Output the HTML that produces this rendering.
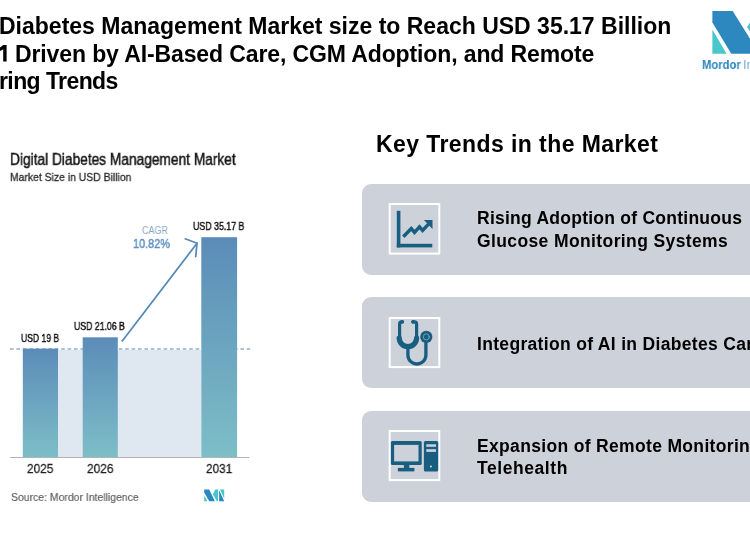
<!DOCTYPE html>
<html><head><meta charset="utf-8">
<style>
*{margin:0;padding:0;box-sizing:border-box}
html,body{width:750px;height:536px;overflow:hidden;background:#fff}
body{position:relative;font-family:"Liberation Sans",sans-serif}
.t{position:absolute;white-space:nowrap;line-height:1;transform-origin:0 0;will-change:transform}
svg{position:absolute;left:0;top:0}
</style></head><body>
<svg width="750" height="536" viewBox="0 0 750 536">
  <defs>
    <linearGradient id="bg" x1="0" y1="0" x2="0" y2="1">
      <stop offset="0" stop-color="#5b8cb8"/>
      <stop offset="1" stop-color="#7dbec7"/>
    </linearGradient>
  </defs>
  <!-- clipped "1" of title line 2 -->
  <path d="M3.2,45.1 L6.6,45.1 L6.6,61.6 L3.2,61.6 L3.2,49.2 Q1.6,50.4 0,51 L0,47.4 Q1.8,46.5 3.2,45.1 Z" fill="#000"/>
  <!-- chart light region -->
  <rect x="58" y="350" width="143" height="107" fill="#dfe7f0"/>
  <!-- dashed line -->
  <line x1="10" y1="349" x2="250" y2="349" stroke="#92b0c8" stroke-width="1.4" stroke-dasharray="3.6 2.8"/>
  <!-- bars -->
  <rect x="22.8" y="348.6" width="35.2" height="108.6" fill="url(#bg)"/>
  <rect x="82.7" y="337.3" width="35.1" height="119.9" fill="url(#bg)"/>
  <rect x="201.3" y="237.2" width="35.8" height="220" fill="url(#bg)"/>
  <!-- axis -->
  <line x1="10" y1="457.5" x2="249.5" y2="457.5" stroke="#b3b3b3" stroke-width="1.2"/>
  <!-- arrow -->
  <g stroke="#5489ba" stroke-width="1.75" fill="none" stroke-linecap="round">
    <line x1="122.3" y1="341" x2="197" y2="243.3"/>
    <polyline points="185.3,238.8 197,243.3 195.7,256.7"/>
  </g>
  <!-- small logo -->
  <g>
    <polygon points="204.2,495.6 204.2,501.2 207.4,501.2" fill="#45c6cb"/>
    <polygon points="204.2,489.5 209.2,489.5 214.9,501.2 209.3,501.2 204.2,492.4" fill="#2a88c0"/>
    <polygon points="215.2,489.5 218,489.5 218,501.2 216.9,501.2 212.9,494.3" fill="#45c6cb"/>
    <polygon points="219.1,490 219.1,501.2 224.2,501.2" fill="#2a88c0"/>
    <polygon points="220,489.5 224.2,489.5 224.2,498.6" fill="#45c6cb"/>
  </g>
  <!-- big logo -->
  <g>
    <polygon points="712.4,29.4 712.4,53.7 726.6,53.7" fill="#48c8cc"/>
    <polygon points="712.4,10.9 732.7,10.9 759.4,53.7 731.3,53.7 712.4,22.6" fill="#2e88c0"/>
    <polygon points="747,27 760,7 760,47" fill="#48c8cc"/>
  </g>
  <!-- cards -->
  <rect x="362" y="184" width="400" height="90.9" rx="9" fill="#cdd1d9"/>
  <rect x="362" y="297" width="400" height="91" rx="9" fill="#cdd1d9"/>
  <rect x="362" y="411" width="400" height="91" rx="9" fill="#cdd1d9"/>
  <!-- icon boxes -->
  <rect x="389.7" y="204" width="49.6" height="49.6" fill="none" stroke="#fff" stroke-width="2"/>
  <rect x="389.7" y="318" width="49.6" height="49.1" fill="none" stroke="#fff" stroke-width="2"/>
  <rect x="389.7" y="431" width="49.6" height="49.1" fill="none" stroke="#fff" stroke-width="2"/>
  <!-- icon 1: chart -->
  <g fill="#175e81">
    <rect x="396.8" y="210.8" width="3.6" height="36.6"/>
    <rect x="396.8" y="243.8" width="35.5" height="3.6"/>
    <polyline points="403.3,236.8 411.3,228.6 414.5,232.4 419.5,226.8 422.6,230.4 428.5,224.2" fill="none" stroke="#175e81" stroke-width="3.4" stroke-linejoin="miter"/>
    <polygon points="423.9,220 432.5,220 432.5,229"/>
  </g>
  <!-- icon 2: stethoscope -->
  <g transform="translate(386,314)" fill="none" stroke="#175e81" stroke-linecap="round">
    <path d="M16.2,7.8 L15.6,7.8 Q13.6,7.8 13.6,10 L13.6,24.5" stroke-width="3.2"/>
    <path d="M27,7.8 L28.4,7.8 Q30.6,7.8 30.6,10 L30.6,24.5" stroke-width="3.2"/>
    <path d="M13.2,24 A8.7,8.7 0 0 0 30.6,24" stroke-width="5.2"/>
    <path d="M21.9,33 L21.9,41 A9,9 0 0 0 39.9,41 L39.9,28" stroke-width="3.3"/>
    <circle cx="16.2" cy="7.8" r="1.9" fill="#175e81" stroke="none"/>
    <circle cx="27" cy="7.8" r="1.9" fill="#175e81" stroke="none"/>
    <circle cx="40.3" cy="22.9" r="6.1" fill="#175e81" stroke="none"/>
    <circle cx="40.3" cy="22.9" r="3" fill="none" stroke="#8fa9bc" stroke-width="0.8"/>
  </g>
  <!-- icon 3: computer -->
  <g transform="translate(386,427)">
    <rect x="4.9" y="14.1" width="30.8" height="23.8" rx="1.5" fill="#175e81"/>
    <rect x="8.1" y="17.9" width="24.4" height="16.5" fill="#cdd1d9"/>
    <rect x="17.9" y="37.5" width="5.4" height="3.8" fill="#175e81"/>
    <rect x="11.9" y="40.9" width="16.5" height="3.5" fill="#175e81"/>
    <rect x="37.9" y="14.1" width="14.3" height="30.3" rx="1.5" fill="#175e81"/>
    <rect x="40.3" y="17.3" width="9.7" height="2.5" fill="#cdd1d9"/>
    <rect x="40.3" y="22.2" width="9.7" height="2.7" fill="#cdd1d9"/>
    <circle cx="44.9" cy="39.5" r="1.1" fill="#cdd1d9"/>
  </g>
</svg>

<!-- title -->
<div class="t" style="left:-1.00px;top:15.10px;font-weight:700;font-size:23px;letter-spacing:0.000px;color:#000">Diabetes Management Market size to Reach USD 35.17 Billion</div>
<div class="t" style="left:15.00px;top:42.65px;font-weight:700;font-size:23px;letter-spacing:-0.115px;color:#000">Driven by AI-Based Care, CGM Adoption, and Remote</div>
<div class="t" style="left:-0.70px;top:69.95px;font-weight:700;font-size:23px;letter-spacing:-0.590px;color:#000">ring Trends</div>
<!-- logo text -->
<div class="t" style="left:702.00px;top:58.25px;font-weight:700;font-size:13px;transform:scaleX(0.8661);color:#2a86c0">Mordor</div>
<div class="t" style="left:742.70px;top:58.25px;font-size:13px;color:#7fb0d4">Intelligence</div>
<!-- chart texts -->
<div class="t" style="left:10.40px;top:150.9px;font-size:15.5px;transform:scale(0.8850,1.09);color:#151515;-webkit-text-stroke:0.45px #151515">Digital Diabetes Management Market</div>
<div class="t" style="left:10.40px;top:171.90px;font-size:11.5px;transform:scaleX(0.9046);color:#2a2a2a;-webkit-text-stroke:0.3px #2a2a2a">Market Size in USD Billion</div>
<div class="t" style="left:21.00px;top:333.00px;font-size:11px;transform:scaleX(0.7788);color:#111;-webkit-text-stroke:0.45px #111">USD 19 B</div>
<div class="t" style="left:73.60px;top:321.40px;font-size:11px;transform:scaleX(0.7922);color:#111;-webkit-text-stroke:0.45px #111">USD 21.06 B</div>
<div class="t" style="left:193.00px;top:221.40px;font-size:11px;transform:scaleX(0.8002);color:#111;-webkit-text-stroke:0.45px #111">USD 35.17 B</div>
<div class="t" style="left:142.00px;top:225.70px;font-size:10px;transform:scaleX(0.8967);color:#86a9c8">CAGR</div>
<div class="t" style="left:132.80px;top:237.35px;font-size:13px;transform:scaleX(0.8379);color:#5d90c0;-webkit-text-stroke:0.45px #5d90c0">10.82%</div>
<div class="t" style="left:26.60px;top:461.65px;font-size:13.5px;transform:scaleX(0.8793);color:#1e1e1e;-webkit-text-stroke:0.3px #1e1e1e">2025</div>
<div class="t" style="left:86.50px;top:461.65px;font-size:13.5px;transform:scaleX(0.8822);color:#1e1e1e;-webkit-text-stroke:0.3px #1e1e1e">2026</div>
<div class="t" style="left:205.70px;top:461.60px;font-size:13.5px;transform:scaleX(0.8754);color:#1e1e1e;-webkit-text-stroke:0.3px #1e1e1e">2031</div>
<div class="t" style="left:11.10px;top:492.40px;font-size:11.5px;transform:scaleX(0.9079);color:#5a5a5a;-webkit-text-stroke:0.15px #5a5a5a">Source: Mordor Intelligence</div>
<!-- key trends -->
<div class="t" style="left:376.10px;top:132.75px;font-weight:700;font-size:23px;letter-spacing:0.422px;color:#000">Key Trends in the Market</div>
<div class="t" style="left:477.30px;top:210.15px;font-weight:700;font-size:17.5px;letter-spacing:0.250px;color:#000">Rising Adoption of Continuous</div>
<div class="t" style="left:476.50px;top:233.20px;font-weight:700;font-size:17.5px;letter-spacing:0.384px;color:#000">Glucose Monitoring Systems</div>
<div class="t" style="left:477.20px;top:335.60px;font-weight:700;font-size:17.5px;letter-spacing:0.321px;color:#000">Integration of AI in Diabetes Care</div>
<div class="t" style="left:477.30px;top:437.60px;font-weight:700;font-size:17.5px;letter-spacing:0.333px;color:#000">Expansion of Remote Monitoring and</div>
<div class="t" style="left:477.30px;top:460.30px;font-weight:700;font-size:17.5px;letter-spacing:0.567px;color:#000">Telehealth</div>
</body></html>
